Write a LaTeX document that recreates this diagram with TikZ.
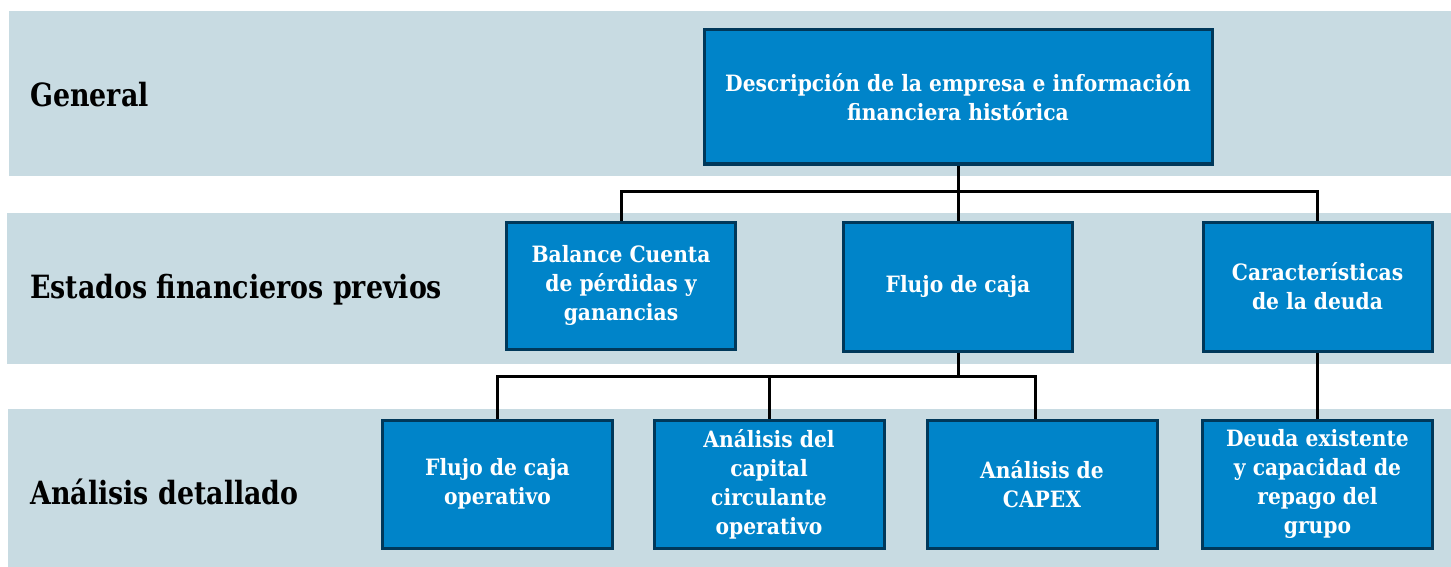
\documentclass[tikz,border=0pt]{standalone}
\usepackage{fontspec}
\setmainfont{DejaVu Serif}[FakeStretch=0.84]
\newfontfamily\boxfont{DejaVu Serif}[FakeStretch=0.9]
\definecolor{band}{HTML}{C8DBE2}
\definecolor{boxfill}{HTML}{0084C9}
\definecolor{boxline}{HTML}{00385A}
\begin{document}
\begin{tikzpicture}[x=1pt,y=-1pt,
  bandrect/.style={fill=band,draw=none},
  bluebox/.style={draw=boxline,fill=boxfill,line width=3pt,text=white,
    font=\boxfont\fontsize{22.5}{29}\selectfont\bfseries,align=center,inner sep=2pt},
  rowlabel/.style={anchor=west,font=\fontsize{32}{36}\selectfont\bfseries,text=black,inner sep=0pt},
  link/.style={draw=black,line width=3pt}]
\useasboundingbox (0,0) rectangle (1451,567);
\fill[white] (0,0) rectangle (1451,567);
% bands
\path[bandrect] (9,11) rectangle (1451,176);
\path[bandrect] (7,213) rectangle (1451,364);
\path[bandrect] (8,409) rectangle (1451,567);
% row labels
\node[rowlabel] (lg) at (30,95) {General};
\node[rowlabel] (le) at (30,290) {Estados financieros previos};
\node[rowlabel] (la) at (30,492) {Análisis detallado};
% boxes
\node[bluebox,minimum width=508,minimum height=134] (top) at (958,97) {Descripción de la empresa e información\\financiera histórica};
\node[bluebox,minimum width=229,minimum height=127] (bal) at (621,285.5) {Balance Cuenta\\de pérdidas y\\ganancias};
\node[bluebox,minimum width=229,minimum height=129] (flu) at (958,286.5) {Flujo de caja};
\node[bluebox,minimum width=229,minimum height=129] (car) at (1317.5,286.5) {Características\\de la deuda};
\node[bluebox,minimum width=230,minimum height=128] (fop) at (497.5,484) {Flujo de caja\\operativo};
\node[bluebox,minimum width=230,minimum height=128] (cap) at (769,484) {Análisis del\\capital\\circulante\\operativo};
\node[bluebox,minimum width=230,minimum height=128] (cpx) at (1042,484) {Análisis de\\CAPEX};
\node[bluebox,minimum width=230,minimum height=128] (deu) at (1317.5,484) {Deuda existente\\y capacidad de\\repago del\\grupo};
% connectors
\coordinate (bus1) at (958,191);
\coordinate (bus2) at (958,376);
\draw[link] (top.south) -- (flu.north);
\draw[link] (bal.north) -- (bal.north |- bus1) -- (car.north |- bus1) -- (car.north);
\draw[link] (flu.south) -- (flu.south |- bus2);
\draw[link] (fop.north) -- (fop.north |- bus2) -- ([xshift=-7pt]cpx.north |- bus2) -- ([xshift=-7pt]cpx.north);
\draw[link] (cap.north) -- (cap.north |- bus2);
\draw[link] (car.south) -- (deu.north);
\end{tikzpicture}
\end{document}
